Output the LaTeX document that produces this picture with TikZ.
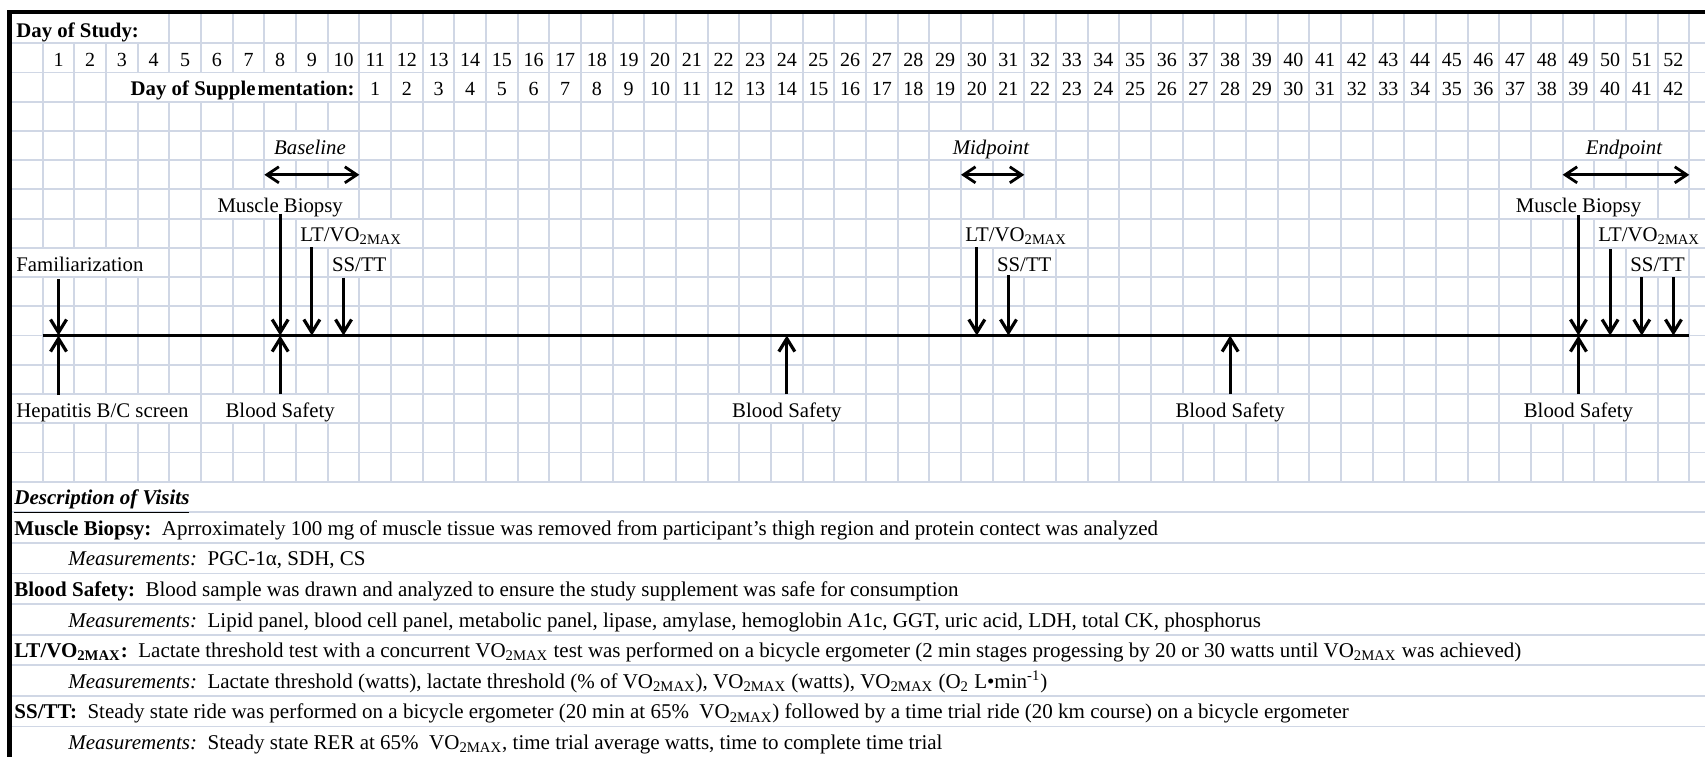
\documentclass[tikz,border=0pt]{standalone}
\usepackage{fontspec}
\setmainfont{Liberation Serif}
\usetikzlibrary{arrows.meta,calc}
\definecolor{gridc}{RGB}{208,215,229}
\pgfdeclarelayer{gridv}
\pgfdeclarelayer{maskl}
\pgfdeclarelayer{gridh}
\pgfsetlayers{gridv,maskl,gridh,main}
\newcommand{\VOm}{VO\textsubscript{2MAX}}
\newcommand{\maskit}[3]{\fill[white] (#1.west |- r#2) rectangle (#1.east |- r#3);}
\begin{document}
\begin{tikzpicture}[x=0.5pt,y=-0.5pt,
  gridline/.style={draw=gridc,line width=0.9pt},
  lbl/.style={inner sep=0pt,anchor=base,font=\fontsize{10.4}{12}\selectfont},
  lblw/.style={lbl,anchor=base west},
  numb/.style={inner sep=0pt,anchor=base,font=\fontsize{10}{12}\selectfont},
  hdr/.style={lbl,font=\fontsize{10.4}{12}\selectfont\bfseries},
  phase/.style={lbl,font=\fontsize{10.4}{12}\selectfont\itshape},
  desc/.style={inner sep=0pt,anchor=base west,font=\fontsize{10.5}{12}\selectfont},
  downarr/.style={line width=1.6pt,-{Straight Barb[length=6.5pt,width=8pt]}},
  spanarr/.style={line width=1.4pt,{Straight Barb[length=6pt,width=8pt]}-{Straight Barb[length=6pt,width=8pt]}},
  timeline/.style={line width=1.5pt},
  frameline/.style={line width=2.2pt,line join=miter}]
\useasboundingbox (0,0) rectangle (1705,757);

% row coordinates
\foreach \k in {0,...,16} \coordinate (r\k) at (0,{14+29.23*\k});

% ---------- header ----------
\node[hdr,anchor=base west] (study) at (16,37.2) {Day of Study:};
\foreach \dayn in {1,...,52}
  \node[numb] (d\dayn) at ({42.7+31.665*(\dayn-0.5)},66.5) {\dayn};
\node[hdr,anchor=base east] (supp) at (355,95.7) {Day of Supple\kern1pt mentation:};
\foreach \supn in {1,...,42}
  \node[numb] (s\supn) at ({42.7+31.665*(\supn+9.5)},95.7) {\supn};

% ---------- phases ----------
\node[phase] (base) at (310,154.2) {Baseline};
\node[phase] (mid) at (991,154.2) {Midpoint};
\node[phase] (endp) at (1624,154.2) {Endpoint};
\coordinate (bA) at (264.355,174.8); \coordinate (bB) at (359.35,174.8);
\coordinate (mA) at (960.985,174.8); \coordinate (mB) at (1024.315,174.8);
\coordinate (eA) at (1562.62,174.8); \coordinate (eB) at (1689.28,174.8);
\draw[spanarr] (bA) -- (bB);
\draw[spanarr] (mA) -- (mB);
\draw[spanarr] (eA) -- (eB);

% ---------- labels ----------
\node[lbl] (mb1) at (280.19,212.6) {Muscle Biopsy};
\node[lbl] (mb3) at (1578.45,212.6) {Muscle Biopsy};
\node[lblw] (lt1) at (300,241.8) {LT/\VOm};
\node[lblw] (lt2) at (965,241.8) {LT/\VOm};
\node[lblw] (lt3) at (1598,241.8) {LT/\VOm};
\node[lblw] (fam) at (16,271.1) {Familiarization};
\node[lblw] (ss1) at (331.7,271.1) {SS/TT};
\node[lblw] (ss2) at (996.7,271.1) {SS/TT};
\node[lblw] (ss3) at (1630,271.1) {SS/TT};
\node[lblw] (hep) at (16,417.2) {Hepatitis B/C screen};
\node[lbl] (bs1) at (280.19,417.2) {Blood Safety};
\node[lbl] (bs2) at (786.83,417.2) {Blood Safety};
\node[lbl] (bs3) at (1230.15,417.2) {Blood Safety};
\node[lbl] (bs4) at (1578.45,417.2) {Blood Safety};

% ---------- timeline ----------
\coordinate (tl0) at (42.7,335.53);
\coordinate (tl52) at (1689.28,335.53);
\draw[timeline] (tl0) -- (tl52);
\foreach \nm/\xx in {1/58.53,8/280.19,9/311.86,10/343.52,24/786.83,30/976.82,31/1008.48,38/1230.15,49/1578.45,50/1610.12,51/1641.78,52/1673.45}
  \coordinate (t\nm) at (\xx,335.53);

% down arrows
\coordinate (aFam) at (58.53,279);
\coordinate (aMb1) at (280.19,213.5);
\coordinate (aLt1) at (311.86,247);
\coordinate (aSs1) at (343.52,277.5);
\coordinate (aLt2) at (976.82,247);
\coordinate (aSs2) at (1008.48,275);
\coordinate (aMb3) at (1578.45,215);
\coordinate (aLt3) at (1610.12,249);
\coordinate (aSs3) at (1641.78,277);
\coordinate (aSs4) at (1673.45,277);
\draw[downarr] (aFam) -- (t1);
\draw[downarr] (aMb1) -- (t8);
\draw[downarr] (aLt1) -- (t9);
\draw[downarr] (aSs1) -- (t10);
\draw[downarr] (aLt2) -- (t30);
\draw[downarr] (aSs2) -- (t31);
\draw[downarr] (aMb3) -- (t49);
\draw[downarr] (aLt3) -- (t50);
\draw[downarr] (aSs3) -- (t51);
\draw[downarr] (aSs4) -- (t52);
% up arrows
\coordinate (uHep) at (58.53,395);
\coordinate (uBs1) at (280.19,394);
\coordinate (uBs2) at (786.83,394);
\coordinate (uBs3) at (1230.15,394);
\coordinate (uBs4) at (1578.45,394);
\draw[downarr] (uHep) -- (t1);
\draw[downarr] (uBs1) -- (t8);
\draw[downarr] (uBs2) -- (t24);
\draw[downarr] (uBs3) -- (t38);
\draw[downarr] (uBs4) -- (t49);

% ---------- description ----------
\node[desc] (dh) at (14,504.7) {\underline{\textbf{\textit{Description of Visits}}}};
\node[desc] (dmb) at (14,535.3) {\textbf{Muscle Biopsy:}\ \ Aprroximately 100 mg of muscle tissue was removed from participant's thigh region and protein contect was analyzed};
\node[desc] (dmbm) at (68,565.9) {\textit{Measurements:}\ \ PGC-1α, SDH, CS};
\node[desc] (dbs) at (14,596.4) {\textbf{Blood Safety:}\ \ Blood sample was drawn and analyzed to ensure the study supplement was safe for consumption};
\node[desc] (dbsm) at (68,627) {\textit{Measurements:}\ \ Lipid panel, blood cell panel, metabolic panel, lipase, amylase, hemoglobin A1c, GGT, uric acid, LDH, total CK, phosphorus};
\node[desc] (dlt) at (14,657.6) {\textbf{LT/VO\textsubscript{2MAX}:}\ \ Lactate threshold test with a concurrent \VOm{} test was performed on a bicycle ergometer (2 min stages progessing by 20 or 30 watts until \VOm{} was achieved)};
\node[desc] (dltm) at (68,688.2) {\textit{Measurements:}\ \ Lactate threshold (watts), lactate threshold (\% of \VOm), \VOm{} (watts), \VOm{} (O\textsubscript{2} L•min\textsuperscript{-1})};
\node[desc] (dss) at (14,718.8) {\textbf{SS/TT:}\ \ Steady state ride was performed on a bicycle ergometer (20 min at 65\%\ \ \VOm) followed by a time trial ride (20 km course) on a bicycle ergometer};
\node[desc] (dssm) at (68,749.4) {\textit{Measurements:}\ \ Steady state RER at 65\%\ \ \VOm, time trial average watts, time to complete time trial};

% ---------- grid ----------
\begin{pgfonlayer}{gridv}
  \foreach \k in {0,...,52}
    \draw[gridline] ({42.7+31.665*\k},14) -- ({42.7+31.665*\k},481.68);
\end{pgfonlayer}
\begin{pgfonlayer}{maskl}
  \maskit{study}{0}{1}
  \maskit{supp}{2}{3}
  \maskit{base}{4}{5}
  \maskit{mid}{4}{5}
  \maskit{endp}{4}{5}
  \maskit{mb1}{6}{7}
  \maskit{mb3}{6}{7}
  \maskit{lt1}{7}{8}
  \maskit{lt2}{7}{8}
  \maskit{lt3}{7}{8}
  \maskit{fam}{8}{9}
  \maskit{ss1}{8}{9}
  \maskit{ss2}{8}{9}
  \maskit{ss3}{8}{9}
  \maskit{hep}{13}{14}
  \maskit{bs1}{13}{14}
  \maskit{bs2}{13}{14}
  \maskit{bs3}{13}{14}
  \maskit{bs4}{13}{14}
\end{pgfonlayer}
\begin{pgfonlayer}{gridh}
  \foreach \k in {1,...,16}
    \draw[gridline] (11,{14+29.23*\k}) -- (1705,{14+29.23*\k});
  \foreach \k in {1,...,8}
    \draw[gridline] (11,{481.68+30.59*\k}) -- (1705,{481.68+30.59*\k});
\end{pgfonlayer}

% ---------- frame ----------
\coordinate (fTR) at (1705,12);
\coordinate (fTL) at (9.5,12);
\coordinate (fBL) at (9.5,757);
\draw[frameline] (fTR) -- (fTL) -- (fBL);
\end{tikzpicture}
\end{document}
